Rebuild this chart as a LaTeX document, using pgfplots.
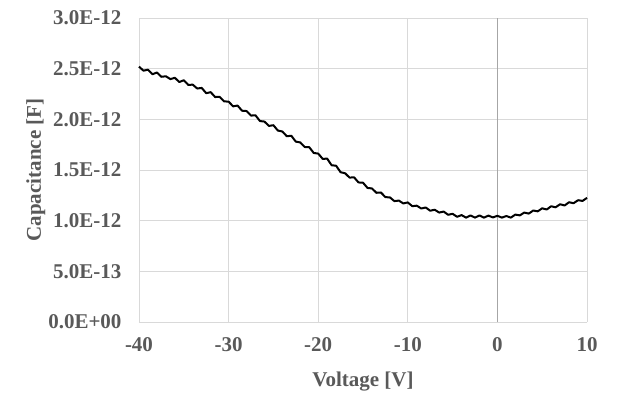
\documentclass[border=0pt]{standalone}
\usepackage{pgfplots}
\pgfplotsset{compat=1.18}
\usepackage{fontspec}
\setmainfont{Liberation Serif}
\definecolor{txtgray}{HTML}{595959}
\definecolor{gridgray}{HTML}{D9D9D9}
\definecolor{zerogray}{HTML}{A6A6A6}
\begin{document}
\begin{tikzpicture}
\useasboundingbox (-139bp,-86bp) rectangle (478bp,322bp);
\begin{axis}[
  at={(0,0)}, anchor=south west,
  scale only axis, width=448bp, height=304bp,
  xmin=-40, xmax=10, ymin=0, ymax=3,
  xtick={-40,-30,...,10}, ytick={0,0.5,...,3},
  yticklabels={0.0E+00,5.0E-13,1.0E-12,1.5E-12,2.0E-12,2.5E-12,3.0E-12},
  /pgf/number format/assume math mode=true,
  tick label style={font=\fontsize{21bp}{23bp}\selectfont\bfseries, text=txtgray},
  label style={font=\fontsize{21bp}{23bp}\selectfont\bfseries, text=txtgray},
  xlabel={Voltage [V]}, ylabel={Capacitance [F]},
  xticklabel style={yshift=-12bp},
  yticklabel style={xshift=-14bp},
  xlabel style={yshift=-13bp},
  ylabel style={yshift=-4bp},
  major tick length=0pt,
  grid=major, grid style={gridgray, line width=0.8bp},
  axis line style={draw=none},
  clip=false,
]
\draw[gridgray, line width=0.8bp] (axis cs:-40,0) -- (axis cs:10,0);
\draw[zerogray, line width=1bp] (axis cs:0,0) -- (axis cs:0,3);
\addplot[black, line width=2bp, line join=round] coordinates {
(-40,2.52) (-39.5,2.48) (-39,2.49) (-38.5,2.445) (-38,2.462) (-37.5,2.42) (-37,2.425)
(-36.5,2.397) (-36,2.41) (-35.5,2.368) (-35,2.386) (-34.5,2.34) (-34,2.342) (-33.5,2.304)
(-33,2.31) (-32.5,2.258) (-32,2.268) (-31.5,2.22) (-31,2.222) (-30.5,2.177) (-30,2.175)
(-29.5,2.128) (-29,2.136) (-28.5,2.085) (-28,2.082) (-27.5,2.037) (-27,2.04) (-26.5,1.983)
(-26,1.978) (-25.5,1.935) (-25,1.942) (-24.5,1.889) (-24,1.88) (-23.5,1.833) (-23,1.838)
(-22.5,1.78) (-22,1.772) (-21.5,1.727) (-21,1.725) (-20.5,1.668) (-20,1.662) (-19.5,1.61)
(-19,1.612) (-18.5,1.547) (-18,1.542) (-17.5,1.478) (-17,1.468) (-16.5,1.425) (-16,1.428)
(-15.5,1.377) (-15,1.375) (-14.5,1.323) (-14,1.318) (-13.5,1.275) (-13,1.278) (-12.5,1.232)
(-12,1.23) (-11.5,1.193) (-11,1.198) (-10.5,1.17) (-10,1.18) (-9.5,1.143) (-9,1.148)
(-8.5,1.12) (-8,1.13) (-7.5,1.098) (-7,1.108) (-6.5,1.08) (-6,1.09) (-5.5,1.058) (-5,1.068)
(-4.5,1.038) (-4,1.055) (-3.5,1.03) (-3,1.052) (-2.5,1.03) (-2,1.052) (-1.5,1.03) (-1,1.05)
(-0.5,1.032) (0,1.048) (0.5,1.03) (1,1.046) (1.5,1.03) (2,1.06) (2.5,1.052) (3,1.08)
(3.5,1.07) (4,1.10) (4.5,1.092) (5,1.122) (5.5,1.11) (6,1.142) (6.5,1.132) (7,1.162)
(7.5,1.15) (8,1.182) (8.5,1.172) (9,1.202) (9.5,1.195) (10,1.225)
};
\end{axis}
\end{tikzpicture}
\end{document}
